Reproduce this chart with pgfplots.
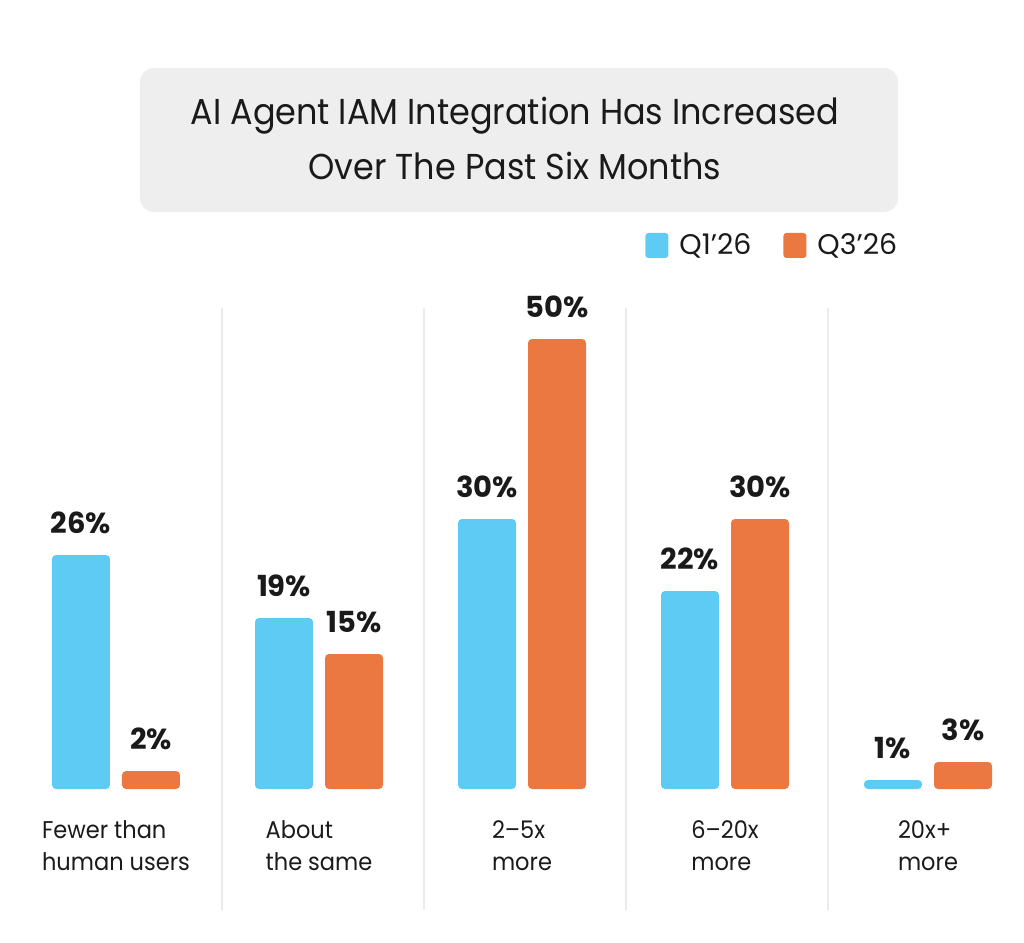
\documentclass[border=0pt]{standalone}
\usepackage{pgfplots}
\pgfplotsset{compat=1.18}
\usepackage{fontspec}
\setmainfont{Poppins}
\newfontfamily\narrowfont{Poppins}[FakeStretch=0.93,Ligatures=TeX]
\definecolor{cq1}{RGB}{94,203,245}
\definecolor{cq3}{RGB}{236,120,65}
\definecolor{tboxgray}{RGB}{238,238,238}
\definecolor{sepgray}{RGB}{235,235,235}
\definecolor{txt}{RGB}{26,26,26}
\begin{document}
\begin{tikzpicture}
\begin{axis}[
  name=ax,
  scale only axis,
  width=512pt, height=471pt,
  xmin=-0.5714, xmax=4.4729,
  ymin=-17, ymax=87.667,
  axis line style={draw=none},
  tick style={draw=none},
  ytick=\empty,
  xtick={0,1,2,3,4},
  xticklabels={{Fewer than\\human users},{About\\the same},{2–5x\\more},{6–20x\\more},{20x+\\more}},
  xticklabel style={align=left, anchor=north, yshift=68.5pt, font=\narrowfont\fontsize{12.1}{16}\selectfont, text=txt},
  clip=false,
  ybar=6pt,
  bar width=29pt,
  nodes near coords={\pgfmathprintnumber[assume math mode=true]{\pgfplotspointmeta}\%},
  every node near coord/.append style={anchor=base, yshift=11pt, font=\fontsize{14.5}{16}\selectfont\bfseries, text=txt},
  legend columns=2,
  legend style={at={(axis cs:2.6059,60.39)}, anchor=west, draw=none, fill=none, inner sep=0pt,
    font=\fontsize{14.2}{16}\selectfont, text=txt,
    /tikz/every odd column/.append style={column sep=3.5pt},
    /tikz/every even column/.append style={column sep=14pt}},
  legend image code/.code={\fill[#1, draw=none, rounded corners=1.5pt] (0pt,-6.25pt) rectangle (11.5pt,6.25pt);},
]
% title box
\fill[tboxgray, rounded corners=7pt] (axis cs:0.1182,80.11) rectangle (axis cs:3.8522,64.11);
\node[align=center, text=txt, font=\narrowfont\fontsize{18}{27.5}\selectfont] at (axis cs:1.965,72.3) {AI Agent IAM Integration Has Increased\\Over The Past Six Months};
% separators
\pgfplotsinvokeforeach{0.5222,1.5172,2.5123,3.5074}{
  \draw[sepgray, line width=0.6pt] (axis cs:#1,53.44) -- (axis cs:#1,-13.44);
}
\addplot[fill=cq1, draw=none, rounded corners=2pt] coordinates {(0,26) (1,19) (2,30) (3,22) (4,1)};
\addplot[fill=cq3, draw=none, rounded corners=2pt] coordinates {(0,2) (1,15) (2,50) (3,30) (4,3)};
\legend{Q1’26, Q3’26}
\end{axis}
\pgfresetboundingbox
\useasboundingbox (ax.south west) rectangle (ax.north east);
\end{tikzpicture}
\end{document}
